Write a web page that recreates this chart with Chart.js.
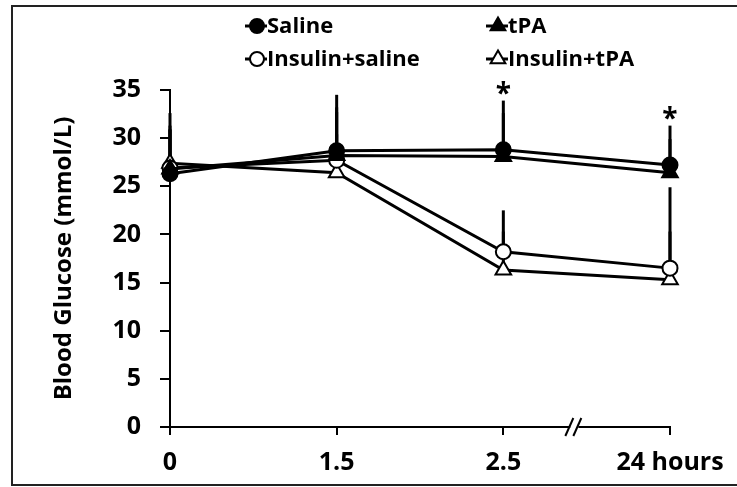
<!DOCTYPE html>
<html>
<head>
<meta charset="utf-8">
<script src="https://cdn.jsdelivr.net/npm/chart.js@4.4.1/dist/chart.umd.min.js"></script>
<style>
html,body{margin:0;padding:0;background:#fff;}
#c{display:block;}
</style>
</head>
<body>
<canvas id="c" width="737" height="487"></canvas>
<script>
// ---- data ----
const categories = ['0', '1.5', '2.5', '24 hours'];
const seriesNames = ['Saline', 'tPA', 'Insulin+saline', 'Insulin+tPA'];
const saline      = [26.3, 28.7, 28.8, 27.2];
const tpa         = [26.8, 28.2, 28.1, 26.4];
const insSaline   = [26.9, 27.7, 18.2, 16.5];
const insTpa      = [27.4, 26.4, 16.3, 15.3];
// upper error bars (SD)
const salineErr    = [6.3, 5.8, 5.1, 4.1];
const tpaErr       = [4.5, 5.0, 4.5, 3.5];
const insSalineErr = [4.0, 5.0, 4.3, 8.4];
const insTpaErr    = [3.5, 4.0, 4.0, 5.0];
// significance markers (asterisk above the saline error bar)
const significant = [false, false, true, true];
const yMin = 0, yMax = 35, yStep = 5;

const FONT = '"Open Sans", Lato, "DejaVu Sans", sans-serif';
const errs = [salineErr, tpaErr, insSalineErr, insTpaErr];
const styles = [
  {pointStyle: 'circle',   fill: '#000', radius: 7.5},
  {pointStyle: 'triangle', fill: '#000', radius: 9},
  {pointStyle: 'circle',   fill: '#fff', radius: 7.5},
  {pointStyle: 'triangle', fill: '#fff', radius: 9}
];
const values = [saline, tpa, insSaline, insTpa];

const datasets = values.map((v, i) => ({
  label: seriesNames[i],
  data: v,
  borderColor: '#000',
  borderWidth: 3,
  tension: 0,
  fill: false,
  pointStyle: styles[i].pointStyle,
  pointRadius: styles[i].radius,
  pointBackgroundColor: styles[i].fill,
  pointBorderColor: '#000',
  pointBorderWidth: 2,
  pointHoverRadius: styles[i].radius
}));

function drawMarker(ctx, style, x, y, r, fill) {
  ctx.save();
  ctx.beginPath();
  if (style === 'circle') {
    ctx.arc(x, y, r, 0, Math.PI * 2);
  } else {
    for (let k = 0; k < 3; k++) {
      const a = k * 2 * Math.PI / 3;
      const px = x + Math.sin(a) * r, py = y - Math.cos(a) * r;
      if (k === 0) ctx.moveTo(px, py); else ctx.lineTo(px, py);
    }
    ctx.closePath();
  }
  ctx.fillStyle = fill;
  ctx.fill();
  ctx.lineWidth = 2;
  ctx.strokeStyle = '#000';
  ctx.stroke();
  ctx.restore();
}

const framePlugin = {
  id: 'frame',
  beforeDraw(chart) {
    const ctx = chart.ctx;
    ctx.save();
    ctx.fillStyle = '#fff';
    ctx.fillRect(0, 0, chart.width, chart.height);
    ctx.strokeStyle = '#222';
    ctx.lineWidth = 2;
    ctx.beginPath();
    ctx.moveTo(chart.width, 6); ctx.lineTo(12, 6); ctx.lineTo(12, 485); ctx.lineTo(chart.width, 485);
    ctx.stroke();
    ctx.restore();
  }
};

const errorBarPlugin = {
  id: 'errorBars',
  beforeDatasetsDraw(chart) {
    const ctx = chart.ctx, ys = chart.scales.y;
    ctx.save();
    ctx.strokeStyle = '#000';
    ctx.lineWidth = 3;
    chart.data.datasets.forEach((ds, di) => {
      const meta = chart.getDatasetMeta(di);
      meta.data.forEach((pt, i) => {
        const top = ys.getPixelForValue(ds.data[i] + errs[di][i]);
        ctx.beginPath();
        ctx.moveTo(pt.x, pt.y);
        ctx.lineTo(pt.x, top);
        ctx.stroke();
      });
    });
    ctx.restore();
  },
  afterDatasetsDraw(chart) {
    const ctx = chart.ctx, ys = chart.scales.y, xs = chart.scales.x;
    ctx.save();
    ctx.fillStyle = '#000';
    ctx.font = 'bold 28px ' + FONT;
    ctx.textAlign = 'center';
    ctx.textBaseline = 'alphabetic';
    significant.forEach((s, i) => {
      if (!s) return;
      const x = xs.getPixelForValue(i);
      const top = ys.getPixelForValue(saline[i] + salineErr[i]);
      ctx.fillText('*', x, top + 2);
    });
    ctx.restore();
  },
  afterDraw(chart) {
    const ctx = chart.ctx, xs = chart.scales.x, ys = chart.scales.y;
    // axis break between the last two categories
    const xa = xs.getPixelForValue(2), xb = xs.getPixelForValue(3);
    const bx = xa + 0.42 * (xb - xa);
    const by = ys.getPixelForValue(0);
    ctx.save();
    ctx.fillStyle = '#fff';
    ctx.fillRect(bx - 3, by - 3, 8, 6);
    ctx.strokeStyle = '#000';
    ctx.lineWidth = 2;
    [-4, 4].forEach(o => {
      ctx.beginPath();
      ctx.moveTo(bx + o - 4, by + 9);
      ctx.lineTo(bx + o + 4, by - 9);
      ctx.stroke();
    });
    // legend (2 x 2)
    const pos = [[257, 26], [498, 26], [257, 59], [498, 59]];
    ctx.font = 'bold 22px ' + FONT;
    ctx.textAlign = 'left';
    ctx.textBaseline = 'middle';
    seriesNames.forEach((name, i) => {
      const [x, y] = pos[i];
      ctx.strokeStyle = '#000';
      ctx.lineWidth = 3;
      ctx.beginPath();
      ctx.moveTo(x - 12, y); ctx.lineTo(x + 10, y);
      ctx.stroke();
      drawMarker(ctx, styles[i].pointStyle, x, y, styles[i].radius - 0.5, styles[i].fill);
      ctx.fillStyle = '#000';
      ctx.fillText(name, x + 10, y + 1);
    });
    ctx.restore();
  }
};

new Chart(document.getElementById('c'), {
  type: 'line',
  data: { labels: categories, datasets },
  plugins: [framePlugin, errorBarPlugin],
  options: {
    responsive: false,
    animation: false,
    devicePixelRatio: 1,
    events: [],
    layout: { padding: { left: 0, top: 90, right: 67, bottom: 0 } },
    plugins: { legend: { display: false }, tooltip: { enabled: false } },
    scales: {
      x: {
        type: 'category',
        offset: false,
        grid: { display: true, drawOnChartArea: false, drawTicks: true, tickLength: 8, color: '#000', lineWidth: 2 },
        border: { display: true, color: '#000', width: 2 },
        ticks: { color: '#000', font: { family: FONT, size: 25, weight: 'bold' }, padding: 13, maxRotation: 0, autoSkip: false },
        afterFit(s) { s.height = 60; }
      },
      y: {
        min: yMin, max: yMax,
        grid: { display: true, drawOnChartArea: false, drawTicks: true, tickLength: 10, color: '#000', lineWidth: 2 },
        border: { display: true, color: '#000', width: 2 },
        ticks: { stepSize: yStep, color: '#000', font: { family: FONT, size: 25, weight: 'bold' }, padding: 19 },
        title: { display: true, text: 'Blood Glucose (mmol/L)', color: '#000', font: { family: FONT, size: 24, weight: 'bold' }, padding: { top: 50, bottom: 0 } },
        afterFit(s) { s.width = 170; }
      }
    }
  }
});
</script>
</body>
</html>
